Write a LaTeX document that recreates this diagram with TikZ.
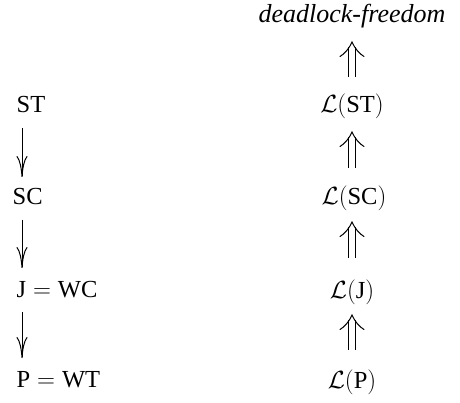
\documentclass[tikz,border=0pt]{standalone}
\usepackage{amsmath}
\usepackage{fontspec}
\setmainfont{Liberation Serif}
\usetikzlibrary{arrows.meta}
\tikzset{
  lbl/.style={inner sep=0pt, font=\fontsize{24.5}{29}\selectfont},
  dnarrow/.style={line width=1pt, -{Computer Modern Rightarrow[length=21pt,width=11pt,line width=1pt]}},
  upshaft/.style={line width=1pt, double distance=6.5pt, shorten >=5pt},
  uphead/.style={line width=1pt, line cap=round},
}
\begin{document}
\begin{tikzpicture}[x=1pt,y=-1pt]
\useasboundingbox (0,0) rectangle (460,403);
% right column
\node[lbl, anchor=base, font=\fontsize{26}{30}\selectfont] (df) at (352,23) {\itshape deadlock-freedom};
\node[lbl, anchor=base] (lst) at (352,113) {$\mathcal{L}(\text{ST})$};
\node[lbl, anchor=base] (lsc) at (354,205) {$\mathcal{L}(\text{SC})$};
\node[lbl, anchor=base] (lj) at (352,298) {$\mathcal{L}(\text{J})$};
\node[lbl, anchor=base] (lp) at (352,388) {$\mathcal{L}(\text{P})$};
% left column
\node[lbl, anchor=base west] (st) at (16.5,113) {ST};
\node[lbl, anchor=base west] (sc) at (12.5,205) {SC};
\node[lbl, anchor=base west] (j) at (16.5,297) {J${}={}$WC};
\node[lbl, anchor=base west] (p) at (16.5,387) {P${}={}$WT};
% left arrows
\draw[dnarrow] ([xshift=5.5pt,yshift=-15pt]st.base west) -- ([xshift=9.5pt,yshift=28pt]sc.base west);
\draw[dnarrow] ([xshift=9.5pt,yshift=-15pt]sc.base west) -- ([xshift=5.5pt,yshift=29pt]j.base west);
\draw[dnarrow] ([xshift=5.5pt,yshift=-15pt]j.base west) -- ([xshift=5.5pt,yshift=29pt]p.base west);
% right arrows
\coordinate (a1s) at ([yshift=36pt]lst.base);
\coordinate (a1e) at ([yshift=-19pt]df.base);
\coordinate (a2s) at ([xshift=-2pt,yshift=37pt]lsc.base);
\coordinate (a2e) at ([yshift=-19pt]lst.base);
\coordinate (a3s) at ([yshift=40pt]lj.base);
\coordinate (a3e) at ([xshift=-2pt,yshift=-17pt]lsc.base);
\coordinate (a4s) at ([yshift=38pt]lp.base);
\coordinate (a4e) at ([yshift=-17pt]lj.base);
\foreach \i in {1,2,3,4}{
  \draw[upshaft] (a\i s) -- (a\i e);
  \draw[uphead] ([xshift=-12pt,yshift=-14.5pt]a\i e)
     .. controls ([xshift=-7.5pt,yshift=-12pt]a\i e) and ([xshift=-2.5pt,yshift=-6pt]a\i e) .. (a\i e)
     .. controls ([xshift=2.5pt,yshift=-6pt]a\i e) and ([xshift=7.5pt,yshift=-12pt]a\i e) .. ([xshift=12pt,yshift=-14.5pt]a\i e);
}
\end{tikzpicture}
\end{document}
